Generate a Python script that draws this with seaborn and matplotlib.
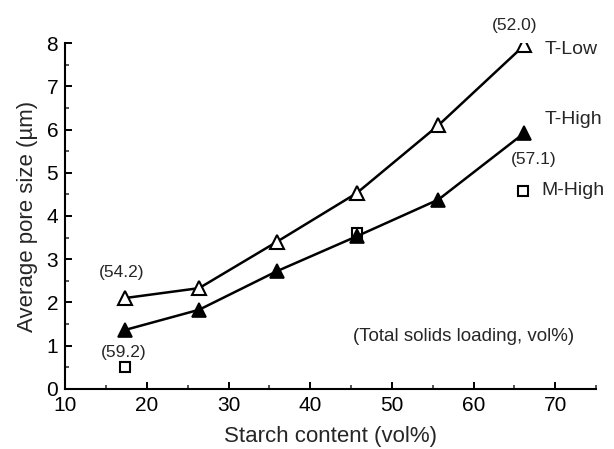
import matplotlib
matplotlib.use("Agg")
import matplotlib.pyplot as plt
import seaborn as sns
import pandas as pd
from matplotlib.ticker import MultipleLocator

# Data
starch = [17.3, 26.4, 35.9, 45.7, 55.7, 66.2]
t_low = [2.10, 2.33, 3.40, 4.53, 6.10, 7.95]
t_high = [1.36, 1.83, 2.72, 3.53, 4.38, 5.92]
m_high_x = [17.3, 45.7]
m_high_y = [0.50, 3.60]

sns.set_style("ticks")
plt.rcParams['font.family'] = ['Liberation Sans', 'DejaVu Sans']

fig = plt.figure(figsize=(6.14, 4.49), dpi=100)
ax = fig.add_axes([0.106, 0.134, 0.865, 0.770])

df_low = pd.DataFrame({"x": starch, "y": t_low})
df_high = pd.DataFrame({"x": starch, "y": t_high})
df_m = pd.DataFrame({"x": m_high_x, "y": m_high_y})

sns.lineplot(data=df_low, x="x", y="y", ax=ax, color="black", lw=1.8,
             marker="^", markersize=10, markerfacecolor="white",
             markeredgecolor="black", markeredgewidth=1.5, zorder=3)
sns.lineplot(data=df_high, x="x", y="y", ax=ax, color="black", lw=1.8,
             marker="^", markersize=10, markerfacecolor="black",
             markeredgecolor="black", markeredgewidth=1.2, zorder=3)
ax.plot(df_m["x"], df_m["y"], linestyle="none", marker="s", markersize=7,
        markerfacecolor="white", markeredgecolor="black", markeredgewidth=1.5,
        zorder=2)

ax.set_xlim(10, 75)
ax.set_ylim(0, 8)
ax.xaxis.set_major_locator(MultipleLocator(10))
ax.xaxis.set_minor_locator(MultipleLocator(5))
ax.yaxis.set_major_locator(MultipleLocator(1))
ax.yaxis.set_minor_locator(MultipleLocator(0.5))
ax.tick_params(which="major", direction="in", length=5, width=1.4,
               labelsize=15, pad=5, colors="black")
ax.tick_params(which="minor", direction="in", length=3, width=1.1)
for s in ["top", "right"]:
    ax.spines[s].set_visible(False)
for s in ["left", "bottom"]:
    ax.spines[s].set_linewidth(1.5)
    ax.spines[s].set_color("black")

ax.set_xlabel("Starch content (vol%)", fontsize=16, labelpad=8)
ax.set_ylabel("Average pore size (\u00b5m)", fontsize=16, labelpad=6)

# Series labels
ax.text(68.7, 7.86, "T-Low", fontsize=14, va="center", ha="left")
ax.text(68.7, 6.23, "T-High", fontsize=14, va="center", ha="left")
ax.plot([66.1], [4.58], linestyle="none", marker="s", markersize=7,
        markerfacecolor="white", markeredgecolor="black", markeredgewidth=1.5)
ax.text(68.3, 4.58, "M-High", fontsize=14, va="center", ha="left")

# Annotations
ax.text(65.0, 8.4, "(52.0)", fontsize=12.5, ha="center", va="center", clip_on=False)
ax.text(67.3, 5.3, "(57.1)", fontsize=12.5, ha="center", va="center")
ax.text(16.9, 2.7, "(54.2)", fontsize=12.5, ha="center", va="center")
ax.text(17.2, 0.85, "(59.2)", fontsize=12.5, ha="center", va="center")
ax.text(58.8, 1.2, "(Total solids loading, vol%)", fontsize=13.5, ha="center", va="center")

fig.savefig("out.png", dpi=100)
